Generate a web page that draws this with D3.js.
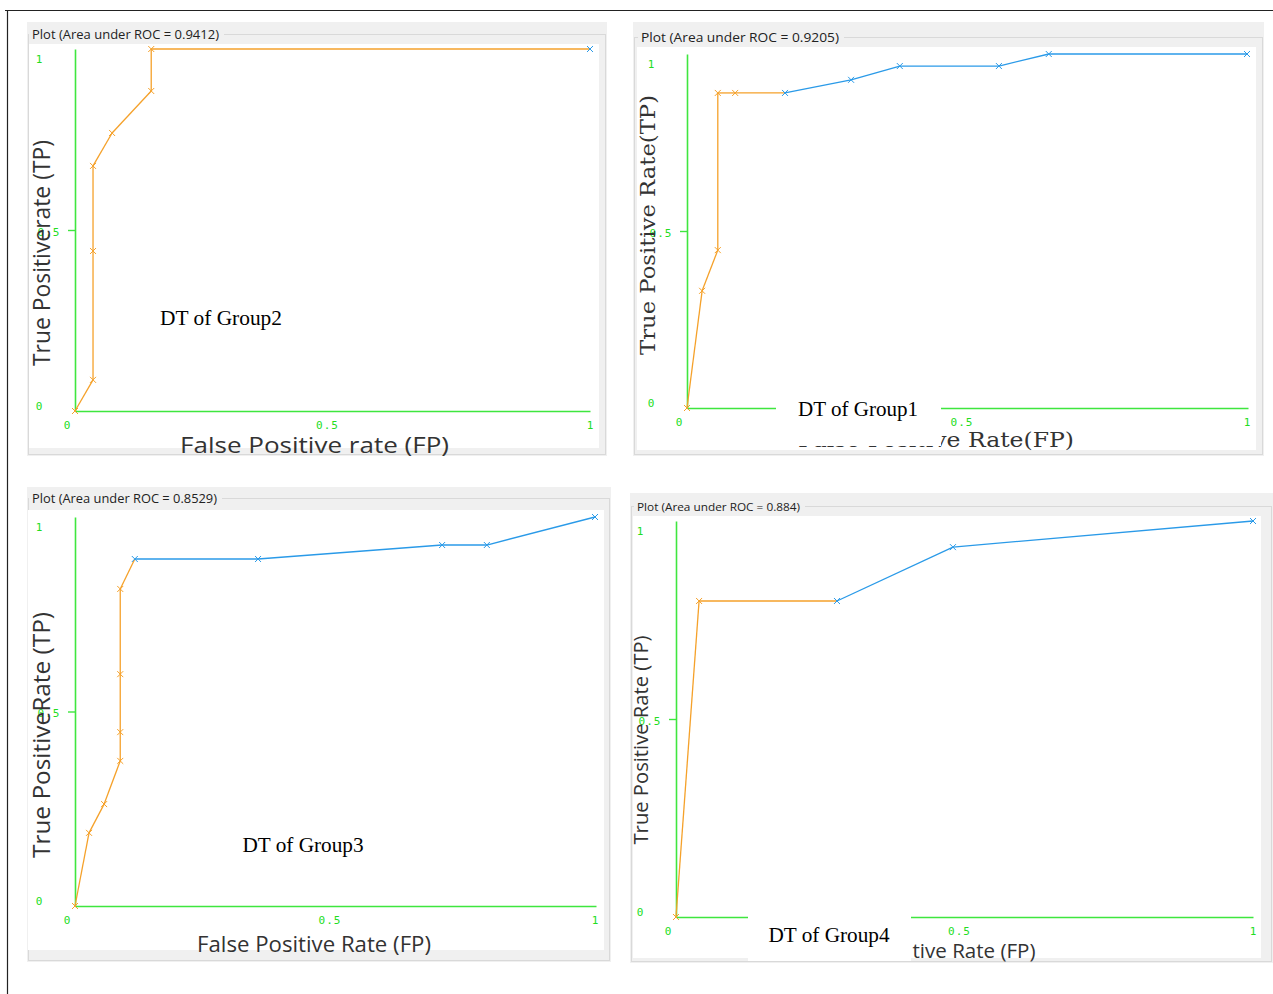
<!DOCTYPE html>
<html><head><meta charset="utf-8">
<script src="https://cdn.jsdelivr.net/npm/d3@7"></script>
<style>html,body{margin:0;padding:0;background:#fff;}svg{display:block;}</style>
</head><body>
<svg id="c" width="1273" height="994"></svg>
<script>
// ---------- data ----------
const groupNames = ["Group2", "Group1", "Group3", "Group4"];
const aucValues = ["0.9412", "0.9205", "0.8529", "0.884"];
const tickValues = [0, 0.5, 1];
const tickLabels = ["0", "0.5", "1"];

const g2FP = [0, 0.035, 0.035, 0.035, 0.072, 0.148, 0.148, 1];
const g2TP = [0, 0.086, 0.442, 0.677, 0.768, 0.884, 1, 1];
const g2FirstBlue = 7;

const g1FP = [0, 0.027, 0.055, 0.055, 0.086, 0.175, 0.293, 0.380, 0.557, 0.646, 1];
const g1TP = [0, 0.331, 0.446, 0.890, 0.890, 0.890, 0.927, 0.966, 0.966, 1, 1];
const g1FirstBlue = 5;

const g3FP = [0, 0.027, 0.056, 0.087, 0.087, 0.087, 0.087, 0.115, 0.352, 0.706, 0.792, 1];
const g3TP = [0, 0.188, 0.262, 0.373, 0.447, 0.596, 0.815, 0.892, 0.892, 0.928, 0.928, 1];
const g3FirstBlue = 7;

const g4FP = [0, 0.040, 0.279, 0.480, 1];
const g4TP = [0, 0.798, 0.798, 0.934, 1];
const g4FirstBlue = 2;

const yTitles = ["True Positiverate (TP)", "True Positive Rate(TP)", "True PositiveRate (TP)", "True Positive Rate (TP)"];
const xTitles = ["False Positive rate (FP)", "False Positive Rate(FP)", "False Positive Rate (FP)", "tive Rate (FP)"];

// ---------- layout (positions/styles only) ----------
const SANS = "'Open Sans','Noto Sans','DejaVu Sans',sans-serif";
const SERIF = "'Liberation Serif','Times New Roman',serif";
const SIMSERIF = "'DejaVu Serif','Liberation Serif',serif";
const GREEN = "#3fe63f", GREEN_T = "#22dd22";
const ORANGE = "#f5a12a", BLUE = "#2a9ae8";

const series = [
  {fp: g2FP, tp: g2TP, fb: g2FirstBlue},
  {fp: g1FP, tp: g1TP, fb: g1FirstBlue},
  {fp: g3FP, tp: g3TP, fb: g3FirstBlue},
  {fp: g4FP, tp: g4TP, fb: g4FirstBlue}
];

const layout = [
  {gray:[27,22,607,456], white:[29,44,599,448], titleY:34, titleX:32, titleLen:187, titleSize:12,
   xr:[75,590], yr:[411,49], xEnd:590,
   yt:{x:40, y:253, len:226, size:24, font:SANS},
   xt:{x:314.5, y:445, len:269, size:21, font:SANS},
   lab:{x:221, y:318, len:122}, box:null},
  {gray:[633,22,1264,456], white:[637,47,1256,450], titleY:37, titleX:641, titleLen:198, titleSize:13,
   xr:[687,1247], yr:[408,54], xEnd:1248,
   yt:{x:648, y:225, len:260, size:20, font:SIMSERIF},
   xt:{x:936, y:440, len:276, size:20, font:SIMSERIF},
   lab:{x:858, y:409, len:120}, box:[776,394,941,446]},
  {gray:[27,487,611,962], white:[28,510,604,950], titleY:498, titleX:32, titleLen:185, titleSize:12,
   xr:[75,595], yr:[906,517], xEnd:596,
   yt:{x:40, y:735, len:246, size:24, font:SANS},
   xt:{x:314, y:943, len:234, size:22, font:SANS},
   lab:{x:303, y:845, len:121}, box:null},
  {gray:[630,493,1273,963], white:[633,516,1261,958], titleY:506, titleX:637, titleLen:163, titleSize:11,
   xr:[676,1253], yr:[917,521], xEnd:1253,
   yt:{x:640, y:740, len:209, size:20, font:SANS},
   xt:{x:974, y:950, len:123, size:20, font:SANS},
   lab:{x:829, y:935, len:121}, box:[748,912,911,961]}
];

const svg = d3.select("#c");

// outer border
svg.append("line").attr("x1",5).attr("x2",1273).attr("y1",10.5).attr("y2",10.5).attr("stroke","#222").attr("stroke-width",1.2);
svg.append("line").attr("x1",7.5).attr("x2",7.5).attr("y1",10).attr("y2",994).attr("stroke","#222").attr("stroke-width",1.2);

layout.forEach((L, i) => {
  const S = series[i];
  const g = svg.append("g");
  const [gx0, gy0, gx1, gy1] = L.gray;
  g.append("rect").attr("x",gx0).attr("y",gy0).attr("width",gx1-gx0).attr("height",gy1-gy0).attr("fill","#f0f0f0");
  // etched border
  g.append("rect").attr("x",gx0+1.5).attr("y",L.titleY+0.5).attr("width",gx1-gx0-3).attr("height",gy1-L.titleY-2)
    .attr("fill","none").attr("stroke","#d9d9d9").attr("stroke-width",1);
  // title background & text
  g.append("rect").attr("x",L.titleX-3).attr("y",L.titleY-7).attr("width",L.titleLen+8).attr("height",14).attr("fill","#f0f0f0");
  g.append("text").attr("x",L.titleX).attr("y",L.titleY).attr("dominant-baseline","central")
    .attr("font-family",SANS).attr("font-size",L.titleSize).attr("fill","#222")
    .attr("textLength",L.titleLen).attr("lengthAdjust","spacingAndGlyphs")
    .text(`Plot (Area under ROC = ${aucValues[i]})`);
  const [wx0, wy0, wx1, wy1] = L.white;
  g.append("rect").attr("x",wx0).attr("y",wy0).attr("width",wx1-wx0).attr("height",wy1-wy0).attr("fill","#fff");

  const x = d3.scaleLinear().domain([0,1]).range(L.xr);
  const y = d3.scaleLinear().domain([0,1]).range(L.yr);

  // axes
  const ya = g.append("g").attr("transform",`translate(${L.xr[0]},0)`)
    .call(d3.axisLeft(y).tickValues([0.5]).tickSizeInner(7).tickSizeOuter(0).tickFormat(""));
  const xa = g.append("g").attr("transform",`translate(0,${L.yr[0]})`)
    .call(d3.axisBottom(d3.scaleLinear().domain([0,1]).range([L.xr[0], L.xEnd])).tickValues([]).tickSizeOuter(0));
  [ya, xa].forEach(a => {
    a.select(".domain").attr("stroke",GREEN).attr("stroke-width",1.6);
    a.selectAll(".tick line").attr("stroke",GREEN).attr("stroke-width",1.4);
  });

  // tick labels
  const yOff = {0:-5, 0.5:2, 1:10};
  tickValues.forEach((v, k) => {
    g.append("text").attr("x", v === 0.5 ? L.xr[0]-26 : L.xr[0]-36).attr("y", y(v)+yOff[v])
      .attr("text-anchor","middle").attr("dominant-baseline","central")
      .attr("font-family","'DejaVu Sans Mono',monospace").attr("font-size",11).attr("letter-spacing", v===0.5?1:0)
      .attr("fill",GREEN_T).text(tickLabels[k]);
    const xx = v === 0 ? x(v)-8 : (v === 0.5 ? x(v)-5 : x(v));
    g.append("text").attr("x", xx).attr("y", L.yr[0]+14)
      .attr("text-anchor","middle").attr("dominant-baseline","central")
      .attr("font-family","'DejaVu Sans Mono',monospace").attr("font-size",11).attr("letter-spacing", v===0.5?1:0)
      .attr("fill",GREEN_T).text(tickLabels[k]);
  });

  // axis titles
  g.append("text").attr("transform",`translate(${L.yt.x},${L.yt.y}) rotate(-90)`)
    .attr("text-anchor","middle").attr("dominant-baseline","central")
    .attr("font-family",L.yt.font).attr("font-size",L.yt.size).attr("fill","#333")
    .attr("textLength",L.yt.len).attr("lengthAdjust","spacingAndGlyphs").text(yTitles[i]);
  g.append("text").attr("x",L.xt.x).attr("y",L.xt.y)
    .attr("text-anchor","middle").attr("dominant-baseline","central")
    .attr("font-family",L.xt.font).attr("font-size",L.xt.size).attr("fill","#333")
    .attr("textLength",L.xt.len).attr("lengthAdjust","spacingAndGlyphs").text(xTitles[i]);

  // ROC curve
  const pts = S.fp.map((f, k) => ({f, t: S.tp[k], c: k >= S.fb ? BLUE : ORANGE}));
  const segs = pts.slice(0, -1).map((p, k) => [p, pts[k+1]]);
  g.selectAll(null).data(segs).enter().append("line")
    .attr("x1", d => x(d[0].f)).attr("y1", d => y(d[0].t))
    .attr("x2", d => x(d[1].f)).attr("y2", d => y(d[1].t))
    .attr("stroke", d => d[0].c).attr("stroke-width", 1.3);
  g.selectAll(null).data(pts).enter().append("path")
    .attr("transform", d => `translate(${x(d.f)},${y(d.t)})`)
    .attr("d","M-3,-3L3,3M-3,3L3,-3").attr("stroke", d => d.c).attr("stroke-width",1).attr("fill","none");

  // white label box
  if (L.box) {
    const [bx0, by0, bx1, by1] = L.box;
    g.append("rect").attr("x",bx0).attr("y",by0).attr("width",bx1-bx0).attr("height",by1-by0).attr("fill","#fff");
  }
  g.append("text").attr("x",L.lab.x).attr("y",L.lab.y).attr("text-anchor","middle").attr("dominant-baseline","central")
    .attr("font-family",SERIF).attr("font-size",21).attr("fill","#000")
    .attr("textLength",L.lab.len).attr("lengthAdjust","spacingAndGlyphs")
    .text(`DT of ${groupNames[i]}`);
});
</script>
</body></html>
